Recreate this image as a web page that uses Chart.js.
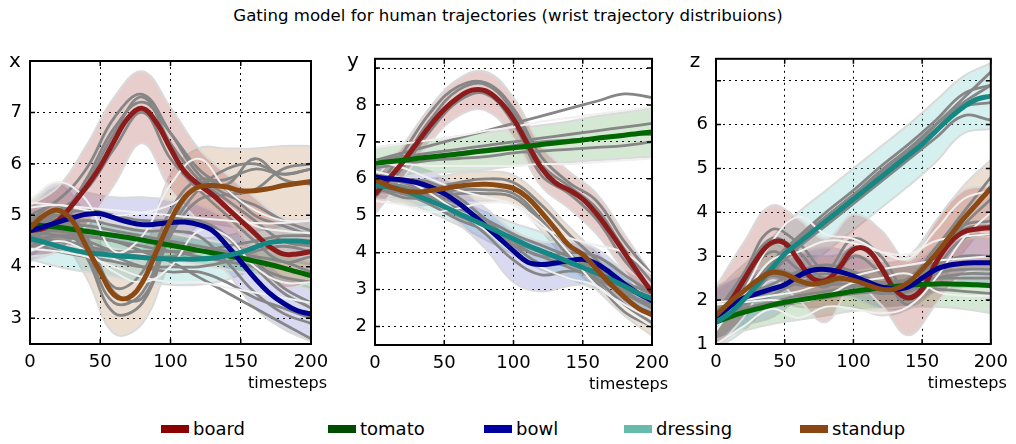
<!DOCTYPE html>
<html>
<head>
<meta charset="utf-8">
<script src="https://cdn.jsdelivr.net/npm/chart.js@4.4.0/dist/chart.umd.min.js"></script>
<style>
  body { margin: 0; background: #fff; font-family: 'DejaVu Sans', sans-serif; }
  #wrap { position: relative; width: 1016px; height: 444px; overflow: hidden; }
  #title { position: absolute; top: 6px; left: 0; width: 1016px; text-align: center; font-size: 16.6px; color: #000; }
  .panel { position: absolute; top: 40px; height: 360px; }
  .item { position: absolute; top: 418px; display: flex; align-items: center; font-size: 18px; color: #000; }
  .item span.mk { display: inline-block; width: 28px; height: 8px; margin-right: 4px; }
</style>
</head>
<body>
<div id="wrap">
  <div id="title">Gating model for human trajectories (wrist trajectory distribuions)</div>
  <div class="panel" style="left:0;width:345px"><canvas id="cx"></canvas></div>
  <div class="panel" style="left:340px;width:345px"><canvas id="cy"></canvas></div>
  <div class="panel" style="left:680px;width:336px"><canvas id="cz"></canvas></div>
  <div id="legend"></div>
</div>
<script>
// categories and colours
const categories = ['board', 'tomato', 'bowl', 'dressing', 'standup'];
const lineColors = ['#8c1c1c', '#006600', '#000090', '#168884', '#8b4a14'];
const legendColors = ['#8b0000', '#004d00', '#0000a0', '#66bbaa', '#8b4513'];
const bandColors = ['rgba(170,70,70,0.27)', 'rgba(60,150,60,0.22)', 'rgba(80,80,190,0.22)',
                    'rgba(90,190,190,0.25)', 'rgba(170,110,50,0.22)'];

// time axes
const timesteps = [0,10,20,30,40,50,60,70,80,90,100,110,120,130,140,150,160,170,180,190,200];
const sampleSteps = [0,20,40,60,80,100,120,140,160,180,200];
const timeTicks = [0, 50, 100, 150, 200];

// ---------- x ----------
const xTicks = [3, 4, 5, 6, 7, 8];
const xMeans = [
  [4.7,4.75,4.9,5.2,5.55,5.95,6.45,6.9,7.08,6.8,6.3,5.85,5.6,5.4,5.15,4.9,4.65,4.4,4.25,4.25,4.3],
  [4.82,4.8,4.77,4.73,4.69,4.65,4.61,4.57,4.52,4.47,4.42,4.37,4.32,4.27,4.22,4.17,4.11,4.05,3.98,3.9,3.83],
  [4.7,4.78,4.87,4.95,5.02,5.03,4.95,4.87,4.82,4.83,4.86,4.87,4.82,4.7,4.42,4.1,3.78,3.5,3.3,3.15,3.08],
  [4.55,4.48,4.4,4.33,4.28,4.25,4.22,4.2,4.18,4.16,4.15,4.15,4.15,4.17,4.22,4.28,4.38,4.47,4.5,4.5,4.48],
  [4.75,5.0,5.1,4.9,4.4,3.9,3.45,3.4,3.7,4.3,4.9,5.35,5.55,5.58,5.55,5.48,5.48,5.52,5.58,5.62,5.66]
];
const xUpper = [
  [5.2,5.55,6.35,7.3,7.8,7.1,6.3,5.8,5.35,4.95,4.9],
  [5.05,5.0,4.95,4.85,4.75,4.65,4.55,4.45,4.35,4.25,4.1],
  [5.2,5.6,5.45,5.35,5.35,5.3,5.2,4.9,4.3,3.8,3.6],
  [4.95,4.8,4.7,4.6,4.55,4.55,4.55,4.6,4.75,4.9,4.9],
  [5.3,5.6,5.0,4.1,4.3,5.8,6.3,6.3,6.3,6.35,6.35]
];
const xLower = [
  [4.2,4.3,4.8,5.6,6.4,5.5,4.9,4.5,4.0,3.6,3.7],
  [4.55,4.5,4.45,4.35,4.25,4.15,4.05,3.95,3.85,3.7,3.55],
  [4.1,4.3,4.5,4.5,4.4,4.4,4.4,3.9,3.2,2.8,2.55],
  [4.15,4.0,3.9,3.8,3.7,3.65,3.65,3.75,3.95,4.1,4.05],
  [4.2,4.5,3.8,2.7,2.9,4.1,4.8,4.8,4.7,4.8,4.95]
];
const xGray = [
  [4.6,4.8,5.6,6.6,7.3,6.4,5.7,5.3,4.9,4.5,4.4],
  [4.9,5.1,5.5,6.3,7.0,6.1,5.5,5.0,4.5,4.1,4.2],
  [4.5,4.9,5.7,6.7,7.2,6.6,5.9,5.5,5.0,4.8,4.6],
  [5.0,5.3,5.9,6.9,7.35,6.6,5.8,5.4,5.2,4.9,4.7],
  [4.6,5.0,4.3,3.3,3.5,4.8,5.6,5.7,5.9,5.8,5.9],
  [4.9,5.2,4.6,3.6,3.9,5.1,5.7,5.6,6.1,5.7,5.6],
  [4.7,4.9,4.2,3.1,3.3,4.6,5.3,5.4,5.5,5.9,6.0],
  [4.8,5.0,4.5,3.5,3.4,4.7,5.5,5.9,6.0,5.8,5.9],
  [4.6,4.8,4.9,4.8,4.7,4.7,4.6,4.1,3.5,3.1,2.9],
  [4.8,5.0,5.1,5.0,4.9,4.9,4.9,4.6,4.0,3.5,3.2],
  [4.5,4.6,4.6,4.5,4.3,4.1,3.8,3.5,3.2,2.9,2.6],
  [4.4,4.5,4.4,4.2,4.0,3.9,3.9,3.7,3.4,3.2,3.0],
  [4.9,4.8,4.8,4.7,4.6,4.5,4.4,4.3,4.2,4.1,3.9],
  [4.7,4.7,4.6,4.5,4.4,4.3,4.2,4.1,4.0,3.8,3.7],
  [4.5,4.3,4.2,4.1,4.0,4.0,4.0,4.1,4.3,4.4,4.3],
  [4.6,4.5,4.4,4.3,4.3,4.3,4.3,4.4,4.5,4.6,4.6],
  [4.7,4.6,4.5,4.3,4.2,4.2,4.3,4.3,4.1,3.6,3.3]
];
const xWhite = [
  [5.25,5.2,5.15,5.1,5.05,5.0,4.95,4.9,4.85,4.85,4.9],
  [5.3,5.65,5.3,4.3,4.6,5.6,6.1,5.5,5.1,4.9,4.9],
  [4.3,4.5,4.3,3.9,3.7,4.0,4.7,4.6,4.0,3.7,3.7],
  [5.15,5.2,5.1,5.0,5.05,5.2,5.5,5.2,4.8,4.7,4.65],
  [4.35,4.3,4.2,4.0,3.8,3.7,3.7,3.6,3.5,3.4,3.3]
];

// ---------- y ----------
const yTicks = [2, 3, 4, 5, 6, 7, 8, 9];
const yMeans = [
  [5.58,6.0,6.45,6.95,7.45,7.88,8.2,8.4,8.38,8.1,7.62,6.95,6.3,5.9,5.7,5.45,5.05,4.55,4.0,3.45,2.92],
  [6.42,6.46,6.5,6.55,6.59,6.63,6.67,6.72,6.76,6.8,6.84,6.88,6.93,6.97,7.01,7.05,7.1,7.14,7.18,7.23,7.27],
  [6.05,6.0,5.97,5.9,5.78,5.6,5.35,5.05,4.72,4.38,4.05,3.75,3.68,3.72,3.78,3.82,3.7,3.45,3.15,2.9,2.7],
  [5.82,5.78,5.7,5.55,5.4,5.25,5.07,4.9,4.72,4.55,4.38,4.2,4.05,3.9,3.75,3.6,3.45,3.28,3.1,2.9,2.75],
  [5.98,5.8,5.68,5.64,5.68,5.74,5.8,5.84,5.85,5.82,5.74,5.5,5.1,4.65,4.2,3.95,3.55,3.15,2.8,2.5,2.32]
];
const yUpper = [
  [6.0,6.9,7.95,8.7,8.9,8.2,6.9,6.2,5.6,4.5,3.4],
  [6.85,6.95,7.05,7.15,7.25,7.35,7.45,7.55,7.7,7.8,7.93],
  [6.5,6.4,6.2,5.8,5.2,4.6,4.3,4.3,4.1,3.5,3.0],
  [6.1,6.0,5.7,5.4,5.1,4.8,4.55,4.2,3.9,3.5,3.1],
  [6.3,6.0,6.0,6.15,6.2,6.1,5.5,4.7,4.0,3.3,2.9]
];
const yLower = [
  [5.05,6.0,7.0,7.7,7.85,7.1,5.8,5.2,4.5,3.5,2.5],
  [5.95,6.05,6.15,6.2,6.25,6.35,6.4,6.45,6.5,6.55,6.6],
  [5.6,5.5,5.3,4.8,4.1,3.2,2.95,3.1,3.1,2.6,2.3],
  [5.5,5.4,5.1,4.75,4.35,3.95,3.55,3.3,3.0,2.65,2.3],
  [5.6,5.3,5.3,5.4,5.4,5.3,4.6,3.7,3.0,2.3,1.75]
];
const yGray = [
  [5.6,6.5,7.6,8.4,8.55,7.8,6.4,5.8,5.2,4.1,3.2],
  [5.5,6.3,7.3,8.1,8.3,7.5,6.1,5.6,4.9,3.8,3.0],
  [5.7,6.7,7.8,8.5,8.6,7.9,6.6,5.9,5.4,4.3,3.4],
  [6.5,6.6,6.7,6.8,6.9,7.0,7.1,7.2,7.3,7.4,7.5],
  [6.3,6.4,6.5,6.55,6.6,6.7,6.75,6.8,6.85,6.9,7.0],
  [6.4,6.55,6.6,6.7,6.8,6.9,7.0,7.05,7.1,7.2,7.2],
  [6.5,6.7,6.9,7.1,7.3,7.5,7.7,7.9,8.1,8.3,8.2],
  [6.0,5.9,5.6,5.1,4.5,3.8,3.4,3.5,3.4,2.9,2.5],
  [6.1,6.0,5.9,5.5,4.9,4.3,3.9,4.0,3.9,3.4,2.9],
  [5.9,5.8,5.6,5.3,4.8,4.2,3.7,3.7,3.6,3.1,2.7],
  [5.9,5.8,5.5,5.2,4.9,4.5,4.2,3.9,3.6,3.2,2.9],
  [5.7,5.6,5.3,4.9,4.6,4.2,3.9,3.6,3.3,2.9,2.6],
  [5.8,5.7,5.4,5.0,4.7,4.3,4.0,3.7,3.4,3.0,2.8],
  [6.0,5.7,5.75,5.9,6.0,5.9,5.3,4.5,3.8,3.0,2.5],
  [5.9,5.6,5.6,5.7,5.7,5.6,4.9,4.0,3.3,2.6,2.1],
  [5.8,5.5,5.5,5.6,5.6,5.5,4.8,3.9,3.2,2.4,2.0]
];
const yWhite = [
  [6.85,6.95,7.05,7.15,7.3,7.4,7.55,7.65,7.75,7.85,7.95],
  [6.5,6.3,6.0,5.7,5.5,5.3,4.7,4.4,4.2,4.0,3.4],
  [5.4,5.3,5.1,5.2,5.35,5.3,4.8,4.0,3.1,2.6,2.2],
  [6.2,6.0,5.6,5.1,4.6,4.0,3.6,3.3,3.1,2.5,2.0],
  [6.4,6.4,6.35,6.35,6.35,6.35,6.4,6.4,6.45,6.5,6.55]
];

// ---------- z ----------
const zTicks = [1, 2, 3, 4, 5, 6, 7];
const zMeans = [
  [1.6,1.95,2.45,2.95,3.3,3.3,2.9,2.5,2.45,2.75,3.15,3.15,2.75,2.25,2.05,2.25,2.85,3.3,3.55,3.62,3.65],
  [1.5,1.62,1.72,1.8,1.88,1.95,2.0,2.05,2.1,2.15,2.2,2.24,2.28,2.31,2.34,2.36,2.37,2.37,2.36,2.35,2.33],
  [1.6,1.85,2.05,2.15,2.25,2.35,2.55,2.68,2.7,2.65,2.55,2.42,2.3,2.25,2.3,2.5,2.7,2.8,2.84,2.85,2.85],
  [1.5,1.7,2.0,2.35,2.7,3.05,3.3,3.55,3.8,4.05,4.3,4.55,4.8,5.05,5.3,5.55,5.85,6.15,6.4,6.58,6.65],
  [1.65,1.95,2.2,2.45,2.63,2.6,2.45,2.36,2.42,2.5,2.45,2.35,2.25,2.25,2.4,2.7,3.05,3.45,3.85,4.2,4.55]
];
const zUpper = [
  [2.3,3.3,4.15,3.85,3.4,3.95,3.6,2.9,3.8,4.5,4.6],
  [1.9,2.1,2.3,2.45,2.55,2.65,2.75,2.8,2.85,2.9,2.95],
  [2.3,2.6,2.8,3.05,3.2,3.05,2.8,2.8,3.2,3.4,3.4],
  [2.2,2.7,3.4,4.0,4.5,5.0,5.5,6.0,6.55,7.1,7.4],
  [2.2,2.8,3.25,3.05,3.0,3.05,2.85,3.0,3.8,4.6,5.2]
];
const zLower = [
  [0.9,1.6,2.45,2.0,1.5,2.35,1.9,1.2,1.9,2.6,2.7],
  [1.1,1.3,1.45,1.55,1.65,1.75,1.8,1.85,1.85,1.8,1.7],
  [0.9,1.4,1.6,2.0,2.2,2.05,1.8,1.8,2.2,2.3,2.3],
  [0.9,1.3,2.0,2.6,3.1,3.6,4.1,4.6,5.15,5.8,5.9],
  [1.1,1.6,2.0,1.85,1.85,1.85,1.65,1.8,2.3,3.1,3.9]
];
const zGray = [
  [1.6,2.1,2.8,3.4,3.9,4.4,4.9,5.4,6.0,6.6,7.2],
  [1.4,1.9,2.6,3.2,3.7,4.2,4.7,5.2,5.7,6.2,6.1],
  [1.5,2.0,2.75,3.35,3.9,4.4,4.95,5.45,6.0,6.5,6.9],
  [1.5,2.05,2.7,3.3,3.85,4.35,4.85,5.35,5.9,6.4,6.5],
  [1.55,2.1,2.85,3.45,4.0,4.5,5.05,5.55,6.1,6.7,6.9],
  [1.7,2.6,3.6,3.3,2.7,3.4,3.0,2.2,3.0,3.7,3.8],
  [1.5,2.3,3.1,2.7,2.3,3.0,2.6,1.9,2.7,3.4,3.5],
  [1.6,2.5,3.4,3.1,2.5,3.2,2.8,2.0,2.9,3.6,3.7],
  [1.5,2.0,2.2,2.5,2.6,2.5,2.2,2.2,2.6,2.7,2.7],
  [1.7,2.1,2.35,2.65,2.8,2.65,2.4,2.4,2.8,3.0,3.0],
  [1.5,1.9,2.1,2.4,2.5,2.45,2.3,2.3,2.5,2.6,2.6],
  [1.45,1.7,1.85,1.95,2.05,2.15,2.2,2.25,2.25,2.2,2.15],
  [1.6,1.8,1.95,2.1,2.2,2.3,2.4,2.45,2.5,2.5,2.5],
  [1.7,2.3,2.7,2.55,2.5,2.55,2.35,2.5,3.2,4.0,4.8],
  [1.6,2.1,2.55,2.35,2.35,2.35,2.15,2.3,2.9,3.7,4.3],
  [1.6,2.2,2.6,2.45,2.4,2.45,2.25,2.4,3.0,3.85,4.6]
];
const zWhite = [
  [1.4,2.1,2.9,3.1,3.35,3.3,3.1,3.05,3.35,3.45,3.5],
  [1.3,2.2,3.3,3.9,3.5,3.4,3.1,2.95,3.6,4.3,4.5],
  [1.95,2.0,2.1,2.2,2.4,2.55,2.7,2.8,2.9,2.95,3.0],
  [1.0,1.4,1.8,1.6,1.85,1.8,1.7,1.85,2.5,3.4,4.0],
  [1.9,1.95,2.0,1.95,2.1,2.4,2.5,2.6,2.2,2.1,2.1]
];

Chart.defaults.font.family = "'DejaVu Sans', sans-serif";
Chart.defaults.color = '#000';

const pts = (steps, vals) => steps.map((t, i) => ({ x: t, y: vals[i] }));

// frame, inner tick marks, axis name and "timesteps" text
const decorPlugin = {
  id: 'decor',
  afterDraw(chart) {
    const { ctx, chartArea: a, scales } = chart;
    const o = chart.options.plugins.decor;
    ctx.save();
    ctx.strokeStyle = '#000';
    ctx.lineWidth = 1.5;
    ctx.beginPath();
    scales.x.ticks.forEach(t => {
      const px = scales.x.getPixelForValue(t.value);
      ctx.moveTo(px, a.bottom); ctx.lineTo(px, a.bottom - 5);
      ctx.moveTo(px, a.top); ctx.lineTo(px, a.top + 5);
    });
    scales.y.ticks.forEach(t => {
      const py = scales.y.getPixelForValue(t.value);
      ctx.moveTo(a.left, py); ctx.lineTo(a.left + 5, py);
      ctx.moveTo(a.right, py); ctx.lineTo(a.right - 5, py);
    });
    ctx.stroke();
    ctx.lineWidth = 2;
    ctx.strokeRect(a.left, a.top, a.right - a.left, a.bottom - a.top);
    ctx.fillStyle = '#000';
    ctx.font = "20px 'DejaVu Sans'";
    ctx.textAlign = 'center';
    ctx.textBaseline = 'alphabetic';
    ctx.fillText(o.name, a.left + o.nameDx, 27);
    ctx.font = "16px 'DejaVu Sans'";
    ctx.textAlign = 'right';
    ctx.fillText('timesteps', a.right + 16, a.bottom + 44);
    ctx.restore();
  }
};

function makePanel(id, name, means, upper, lower, gray, white, yMin, yMax, yTicks, layout) {
  const datasets = [];
  means.forEach((m, c) => {
    datasets.push({ data: pts(timesteps, m), borderColor: lineColors[c], borderWidth: 5, order: 4 - c });
  });
  white.forEach(w => {
    datasets.push({ data: pts(sampleSteps, w), borderColor: '#f0f0f0', borderWidth: 2, order: 10 });
  });
  gray.forEach(g => {
    datasets.push({ data: pts(sampleSteps, g), borderColor: '#868686', borderWidth: 2.8, order: 20 });
  });
  upper.forEach((u, c) => {
    datasets.push({ data: pts(sampleSteps, u), borderColor: '#dadada', borderWidth: 2, order: 30 + c });
    datasets.push({ data: pts(sampleSteps, lower[c]), borderColor: '#dadada', borderWidth: 2,
                    fill: '-1', backgroundColor: bandColors[c], order: 30 + c });
  });

  const top = yTicks[yTicks.length - 1];
  new Chart(document.getElementById(id), {
    type: 'line',
    data: { datasets },
    options: {
      responsive: true,
      maintainAspectRatio: false,
      animation: false,
      elements: {
        point: { radius: 0 },
        line: { tension: 0.4, fill: false }
      },
      layout: { padding: { left: 0, right: layout.right, top: layout.top, bottom: 0 } },
      scales: {
        x: {
          type: 'linear', min: 0, max: 200,
          afterBuildTicks: s => { s.ticks = timeTicks.map(v => ({ value: v })); },
          afterFit: s => { s.height = layout.bottom; },
          ticks: { font: { size: 18 }, padding: 8, maxRotation: 0 },
          grid: { color: '#000', lineWidth: 1, drawTicks: false },
          border: { color: '#000', width: 2, dash: [2, 4] }
        },
        y: {
          min: yMin, max: yMax,
          afterBuildTicks: s => { s.ticks = yTicks.map(v => ({ value: v })); },
          afterFit: s => { s.width = layout.left; },
          ticks: { font: { size: 18 }, padding: 8, callback: v => (v === top ? '' : v) },
          grid: { color: '#000', lineWidth: 1, drawTicks: false },
          border: { color: '#000', width: 2, dash: [2, 4] }
        }
      },
      plugins: {
        legend: { display: false },
        tooltip: { enabled: false },
        decor: { name, nameDx: layout.nameDx }
      }
    },
    plugins: [decorPlugin]
  });
}

makePanel('cx', 'x', xMeans, xUpper, xLower, xGray, xWhite, 2.5, 8, xTicks,
  { left: 30, right: 34, top: 21, bottom: 56, nameDx: -15 });
makePanel('cy', 'y', yMeans, yUpper, yLower, yGray, yWhite, 1.5, 9.25, yTicks,
  { left: 35, right: 33, top: 15, bottom: 55, nameDx: -22 });
makePanel('cz', 'z', zMeans, zUpper, zLower, zGray, zWhite, 1, 7.5, zTicks,
  { left: 36, right: 24, top: 15, bottom: 56, nameDx: -21 });

// legend
const legendLeft = [161, 328, 484, 624, 800];
const legend = document.getElementById('legend');
categories.forEach((c, i) => {
  const el = document.createElement('div');
  el.className = 'item';
  el.style.left = legendLeft[i] + 'px';
  el.innerHTML = '<span class="mk" style="background:' + legendColors[i] + '"></span>' + c;
  legend.appendChild(el);
});
</script>
</body>
</html>
